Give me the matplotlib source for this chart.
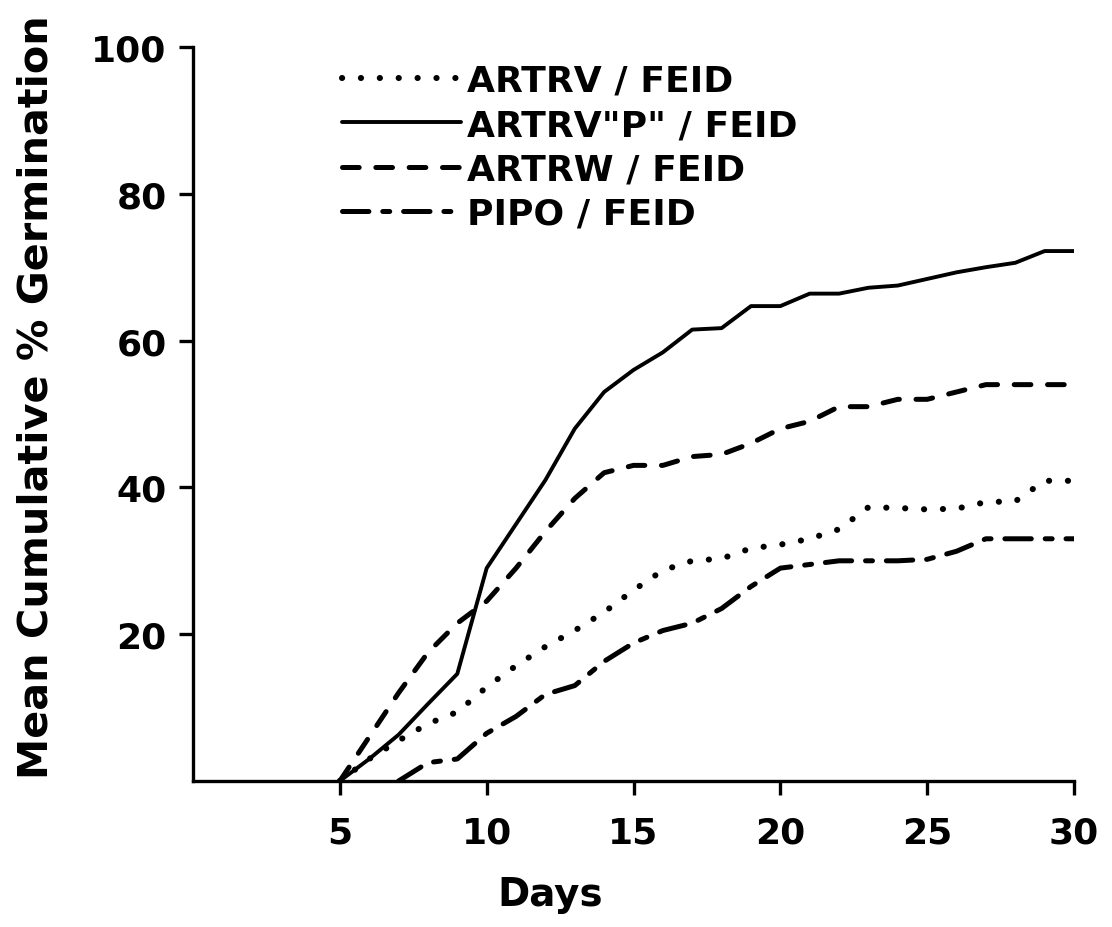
import matplotlib
matplotlib.use("Agg")
import matplotlib.pyplot as plt

plt.rcParams['lines.scale_dashes'] = False
plt.rcParams['font.family'] = ['DejaVu Sans']

days_a = [5, 6, 7, 8, 9, 10, 11, 12, 13, 14, 15, 16, 17, 18, 19, 20, 21, 22, 23, 24, 25, 26, 27, 28, 29, 30]
artrv = [0, 3, 5.5, 7.8, 9.4, 12.8, 15.7, 18.3, 20.5, 23, 26, 28.7, 30, 30.3, 31.7, 32.2, 33, 34.3, 37.3, 37.2, 37, 37.1, 38, 38.1, 40.9, 40.9]
artrv_p = [0, 3, 6.3, 10.5, 14.6, 29, 35, 41, 48, 53, 56, 58.4, 61.5, 61.7, 64.7, 64.7, 66.4, 66.4, 67.2, 67.5, 68.4, 69.3, 70, 70.6, 72.2, 72.2]
artrw = [0, 6, 12, 17.5, 21.5, 24.5, 29, 34, 38.5, 42, 43, 43, 44.2, 44.5, 46, 48, 49, 51, 51, 52, 52, 53, 54, 54, 54, 54]
days_b = [7, 8, 9, 10, 11, 12, 13, 14, 15, 16, 17, 18, 19, 20, 21, 22, 23, 24, 25, 26, 27, 28, 29, 30]
pipo = [0, 2.5, 3, 6.5, 8.8, 11.8, 13, 16.3, 18.8, 20.5, 21.5, 23.5, 26.5, 29, 29.5, 30, 30, 30, 30.2, 31.3, 33, 33, 33, 33]

labels = ['ARTRV / FEID', 'ARTRV"P" / FEID', 'ARTRW / FEID', 'PIPO / FEID']
x_ticks = [5, 10, 15, 20, 25, 30]
y_ticks = [20, 40, 60, 80, 100]

W, H = 1112, 928
fig = plt.figure(figsize=(W / 100, H / 100), dpi=100)
ax = fig.add_axes([193 / W, 1 - 782 / H, (1074 - 193) / W, (782 - 48) / H])

ax.plot(days_a, artrv, color='black', lw=4.4, linestyle=(0, (0.1, 13.5)),
        dash_capstyle='round', solid_capstyle='round', label=labels[0])
ax.plot(days_a, artrv_p, color='black', lw=2.8, solid_joinstyle='round',
        solid_capstyle='round', label=labels[1])
ax.plot(days_a, artrw, color='black', lw=3.6, linestyle=(0, (12, 12)),
        dash_capstyle='round', label=labels[2])
ax.plot(days_b, pipo, color='black', lw=3.6, linestyle=(0, (19, 10, 5, 10)),
        dash_capstyle='round', label=labels[3])

ax.set_xlim(0, 30)
ax.set_ylim(0, 100)
ax.set_xticks(x_ticks)
ax.set_yticks(y_ticks)
ax.set_yticklabels([str(v) for v in y_ticks])
for s in ['top', 'right']:
    ax.spines[s].set_visible(False)
for s in ['left', 'bottom']:
    ax.spines[s].set_linewidth(2.4)
ax.tick_params(axis='both', direction='out', length=10, width=2.4,
               labelsize=26)
ax.tick_params(axis='y', pad=9)
ax.tick_params(axis='x', pad=15)
for lab in ax.get_xticklabels() + ax.get_yticklabels():
    lab.set_fontweight('bold')

fig.text(550 / W, 1 - 895 / H, 'Days', fontsize=28, fontweight='bold',
         ha='center', va='center')
fig.text(37 / W, 1 - 397 / H, 'Mean Cumulative % Germination', fontsize=29.8,
         fontweight='bold', rotation=90, ha='center', va='center')

leg = ax.legend(loc='upper left', bbox_to_anchor=(342 / W, 1 - 65 / H),
                bbox_transform=fig.transFigure, frameon=False,
                fontsize=26, handlelength=3.3, handletextpad=0.15,
                labelspacing=0.28, borderaxespad=0, borderpad=0)
for t in leg.get_texts():
    t.set_fontweight('bold')

fig.savefig('out.png', dpi=100)
